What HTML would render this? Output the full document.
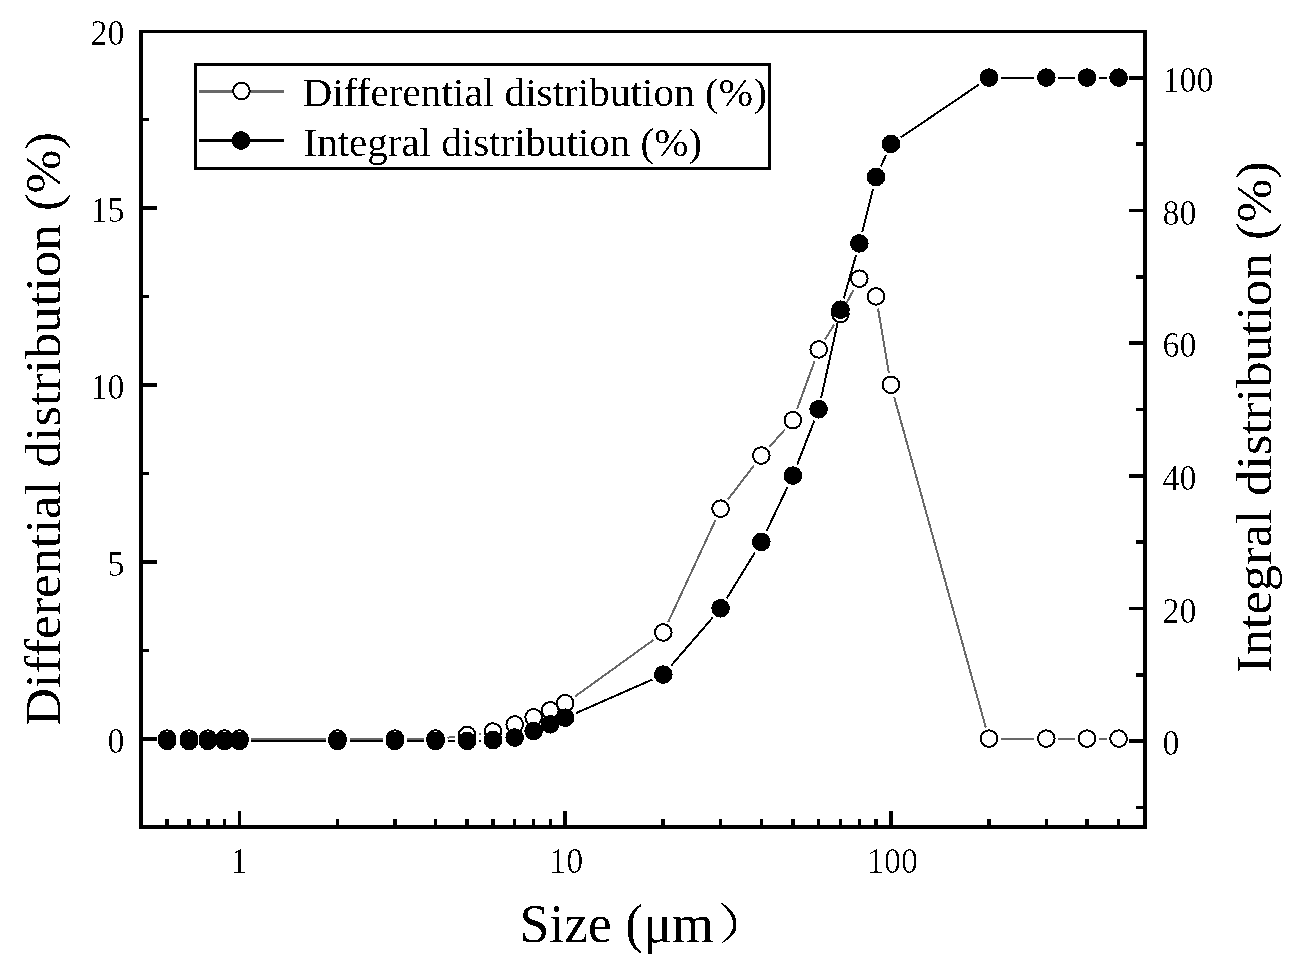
<!DOCTYPE html>
<html><head><meta charset="utf-8"><style>
html,body{margin:0;padding:0;background:#fff;}
svg{display:block;}
text{font-family:"Liberation Serif",serif;fill:#000;}
</style></head><body>
<svg width="1300" height="970" viewBox="0 0 1300 970">
<defs><filter id="tf" x="0" y="0" width="1300" height="970" filterUnits="userSpaceOnUse"><feComponentTransfer><feFuncA type="discrete" tableValues="0 0 1"/></feComponentTransfer></filter><filter id="tf2" x="0" y="0" width="1300" height="970" filterUnits="userSpaceOnUse"><feComponentTransfer><feFuncA type="discrete" tableValues="0 1"/></feComponentTransfer></filter></defs>
<rect width="1300" height="970" fill="#fff"/>
<g fill="#000" shape-rendering="crispEdges">
<rect x="139" y="30" width="1008" height="3"/>
<rect x="139" y="30" width="4" height="799"/>
<rect x="139" y="825" width="1008" height="4"/>
<rect x="1143" y="30" width="4" height="799"/>
<rect x="165.42" y="819" width="3.5" height="6"/>
<rect x="187.23" y="819" width="3.5" height="6"/>
<rect x="206.12" y="819" width="3.5" height="6"/>
<rect x="222.78" y="819" width="3.5" height="6"/>
<rect x="237.69" y="811" width="3.5" height="14"/>
<rect x="335.75" y="819" width="3.5" height="6"/>
<rect x="393.11" y="819" width="3.5" height="6"/>
<rect x="433.81" y="819" width="3.5" height="6"/>
<rect x="465.37" y="819" width="3.5" height="6"/>
<rect x="491.16" y="819" width="3.5" height="6"/>
<rect x="512.97" y="819" width="3.5" height="6"/>
<rect x="531.86" y="819" width="3.5" height="6"/>
<rect x="548.52" y="819" width="3.5" height="6"/>
<rect x="563.43" y="811" width="3.5" height="14"/>
<rect x="661.49" y="819" width="3.5" height="6"/>
<rect x="718.85" y="819" width="3.5" height="6"/>
<rect x="759.55" y="819" width="3.5" height="6"/>
<rect x="791.11" y="819" width="3.5" height="6"/>
<rect x="816.90" y="819" width="3.5" height="6"/>
<rect x="838.71" y="819" width="3.5" height="6"/>
<rect x="857.60" y="819" width="3.5" height="6"/>
<rect x="874.26" y="819" width="3.5" height="6"/>
<rect x="889.17" y="811" width="3.5" height="14"/>
<rect x="987.23" y="819" width="3.5" height="6"/>
<rect x="1044.59" y="819" width="3.5" height="6"/>
<rect x="1085.29" y="819" width="3.5" height="6"/>
<rect x="1116.85" y="819" width="3.5" height="6"/>
<rect x="143" y="737.05" width="14" height="3.5"/>
<rect x="143" y="648.60" width="6" height="3.5"/>
<rect x="143" y="560.15" width="14" height="3.5"/>
<rect x="143" y="471.70" width="6" height="3.5"/>
<rect x="143" y="383.25" width="14" height="3.5"/>
<rect x="143" y="294.80" width="6" height="3.5"/>
<rect x="143" y="206.35" width="14" height="3.5"/>
<rect x="143" y="117.90" width="6" height="3.5"/>
<rect x="1136" y="805.73" width="7" height="3.5"/>
<rect x="1129" y="739.40" width="14" height="3.5"/>
<rect x="1136" y="673.07" width="7" height="3.5"/>
<rect x="1129" y="606.74" width="14" height="3.5"/>
<rect x="1136" y="540.41" width="7" height="3.5"/>
<rect x="1129" y="474.08" width="14" height="3.5"/>
<rect x="1136" y="407.75" width="7" height="3.5"/>
<rect x="1129" y="341.42" width="14" height="3.5"/>
<rect x="1136" y="275.09" width="7" height="3.5"/>
<rect x="1129" y="208.76" width="14" height="3.5"/>
<rect x="1136" y="142.43" width="7" height="3.5"/>
<rect x="1129" y="76.10" width="14" height="3.5"/>
<line x1="251.44" y1="739.00" x2="325.50" y2="739.00" stroke="#686868" stroke-width="2"/>
<line x1="349.50" y1="739.00" x2="382.86" y2="739.00" stroke="#686868" stroke-width="2"/>
<line x1="406.86" y1="739.00" x2="423.56" y2="739.00" stroke="#686868" stroke-width="2"/>
<line x1="447.48" y1="737.66" x2="455.20" y2="736.80" stroke="#686868" stroke-width="2"/>
<line x1="479.01" y1="733.83" x2="481.03" y2="733.55" stroke="#686868" stroke-width="2"/>
<line x1="574.91" y1="696.60" x2="653.51" y2="639.88" stroke="#686868" stroke-width="2"/>
<line x1="668.28" y1="621.97" x2="715.55" y2="519.92" stroke="#686868" stroke-width="2"/>
<line x1="727.90" y1="499.51" x2="753.99" y2="465.48" stroke="#686868" stroke-width="2"/>
<line x1="769.28" y1="447.01" x2="784.87" y2="429.53" stroke="#686868" stroke-width="2"/>
<line x1="796.97" y1="409.31" x2="814.55" y2="361.09" stroke="#686868" stroke-width="2"/>
<line x1="824.95" y1="339.60" x2="834.17" y2="324.66" stroke="#686868" stroke-width="2"/>
<line x1="846.11" y1="303.85" x2="853.70" y2="289.65" stroke="#686868" stroke-width="2"/>
<line x1="867.58" y1="287.80" x2="867.79" y2="288.01" stroke="#686868" stroke-width="2"/>
<line x1="878.01" y1="308.58" x2="888.93" y2="373.37" stroke="#686868" stroke-width="2"/>
<line x1="894.13" y1="396.76" x2="985.77" y2="727.44" stroke="#686868" stroke-width="2"/>
<line x1="1000.98" y1="739.00" x2="1034.34" y2="739.00" stroke="#686868" stroke-width="2"/>
<line x1="1058.34" y1="739.00" x2="1075.04" y2="739.00" stroke="#686868" stroke-width="2"/>
<line x1="1099.04" y1="739.00" x2="1106.60" y2="739.00" stroke="#686868" stroke-width="2"/>
<circle cx="167.17" cy="738.60" r="8.3" fill="#fff" stroke="#000" stroke-width="2"/>
<circle cx="188.98" cy="738.60" r="8.3" fill="#fff" stroke="#000" stroke-width="2"/>
<circle cx="207.87" cy="738.60" r="8.3" fill="#fff" stroke="#000" stroke-width="2"/>
<circle cx="224.53" cy="738.60" r="8.3" fill="#fff" stroke="#000" stroke-width="2"/>
<circle cx="239.44" cy="738.60" r="8.3" fill="#fff" stroke="#000" stroke-width="2"/>
<circle cx="337.50" cy="738.60" r="8.3" fill="#fff" stroke="#000" stroke-width="2"/>
<circle cx="394.86" cy="738.60" r="8.3" fill="#fff" stroke="#000" stroke-width="2"/>
<circle cx="435.56" cy="738.60" r="8.3" fill="#fff" stroke="#000" stroke-width="2"/>
<circle cx="467.12" cy="735.06" r="8.3" fill="#fff" stroke="#000" stroke-width="2"/>
<circle cx="492.91" cy="731.52" r="8.3" fill="#fff" stroke="#000" stroke-width="2"/>
<circle cx="514.72" cy="724.45" r="8.3" fill="#fff" stroke="#000" stroke-width="2"/>
<circle cx="533.61" cy="717.37" r="8.3" fill="#fff" stroke="#000" stroke-width="2"/>
<circle cx="550.27" cy="710.30" r="8.3" fill="#fff" stroke="#000" stroke-width="2"/>
<circle cx="565.18" cy="703.22" r="8.3" fill="#fff" stroke="#000" stroke-width="2"/>
<circle cx="663.24" cy="632.46" r="8.3" fill="#fff" stroke="#000" stroke-width="2"/>
<circle cx="720.60" cy="508.63" r="8.3" fill="#fff" stroke="#000" stroke-width="2"/>
<circle cx="761.30" cy="455.56" r="8.3" fill="#fff" stroke="#000" stroke-width="2"/>
<circle cx="792.86" cy="420.18" r="8.3" fill="#fff" stroke="#000" stroke-width="2"/>
<circle cx="818.65" cy="349.42" r="8.3" fill="#fff" stroke="#000" stroke-width="2"/>
<circle cx="840.46" cy="314.04" r="8.3" fill="#fff" stroke="#000" stroke-width="2"/>
<circle cx="859.35" cy="278.66" r="8.3" fill="#fff" stroke="#000" stroke-width="2"/>
<circle cx="876.01" cy="296.35" r="8.3" fill="#fff" stroke="#000" stroke-width="2"/>
<circle cx="890.92" cy="384.80" r="8.3" fill="#fff" stroke="#000" stroke-width="2"/>
<circle cx="988.98" cy="738.60" r="8.3" fill="#fff" stroke="#000" stroke-width="2"/>
<circle cx="1046.34" cy="738.60" r="8.3" fill="#fff" stroke="#000" stroke-width="2"/>
<circle cx="1087.04" cy="738.60" r="8.3" fill="#fff" stroke="#000" stroke-width="2"/>
<circle cx="1118.60" cy="738.60" r="8.3" fill="#fff" stroke="#000" stroke-width="2"/>
<line x1="251.44" y1="741.10" x2="325.50" y2="741.10" stroke="#000" stroke-width="2"/>
<line x1="349.50" y1="741.10" x2="382.86" y2="741.10" stroke="#000" stroke-width="2"/>
<line x1="406.86" y1="741.10" x2="423.56" y2="741.10" stroke="#000" stroke-width="2"/>
<line x1="447.56" y1="741.10" x2="455.12" y2="741.10" stroke="#000" stroke-width="2"/>
<line x1="479.12" y1="740.70" x2="480.92" y2="740.64" stroke="#000" stroke-width="2"/>
<line x1="576.17" y1="713.05" x2="652.25" y2="679.60" stroke="#000" stroke-width="2"/>
<line x1="671.09" y1="665.69" x2="712.75" y2="617.52" stroke="#000" stroke-width="2"/>
<line x1="726.87" y1="598.21" x2="755.02" y2="552.34" stroke="#000" stroke-width="2"/>
<line x1="766.45" y1="531.27" x2="787.71" y2="486.62" stroke="#000" stroke-width="2"/>
<line x1="797.21" y1="464.60" x2="814.31" y2="420.63" stroke="#000" stroke-width="2"/>
<line x1="821.22" y1="397.73" x2="837.89" y2="321.68" stroke="#000" stroke-width="2"/>
<line x1="843.75" y1="298.41" x2="856.07" y2="255.17" stroke="#000" stroke-width="2"/>
<line x1="862.28" y1="231.99" x2="873.09" y2="188.93" stroke="#000" stroke-width="2"/>
<line x1="880.93" y1="166.35" x2="886.00" y2="155.08" stroke="#000" stroke-width="2"/>
<line x1="900.86" y1="137.41" x2="979.04" y2="84.52" stroke="#000" stroke-width="2"/>
<line x1="1000.98" y1="77.80" x2="1034.34" y2="77.80" stroke="#000" stroke-width="2"/>
<line x1="1058.34" y1="77.80" x2="1075.04" y2="77.80" stroke="#000" stroke-width="2"/>
<line x1="1099.04" y1="77.80" x2="1106.60" y2="77.80" stroke="#000" stroke-width="2"/>
<circle cx="167.17" cy="740.90" r="9.3"/>
<circle cx="188.98" cy="740.90" r="9.3"/>
<circle cx="207.87" cy="740.90" r="9.3"/>
<circle cx="224.53" cy="740.90" r="9.3"/>
<circle cx="239.44" cy="740.90" r="9.3"/>
<circle cx="337.50" cy="740.90" r="9.3"/>
<circle cx="394.86" cy="740.90" r="9.3"/>
<circle cx="435.56" cy="740.90" r="9.3"/>
<circle cx="467.12" cy="740.90" r="9.3"/>
<circle cx="492.91" cy="740.04" r="9.3"/>
<circle cx="514.72" cy="737.58" r="9.3"/>
<circle cx="533.61" cy="730.95" r="9.3"/>
<circle cx="550.27" cy="724.32" r="9.3"/>
<circle cx="565.18" cy="717.68" r="9.3"/>
<circle cx="663.24" cy="674.57" r="9.3"/>
<circle cx="720.60" cy="608.24" r="9.3"/>
<circle cx="761.30" cy="541.91" r="9.3"/>
<circle cx="792.86" cy="475.58" r="9.3"/>
<circle cx="818.65" cy="409.25" r="9.3"/>
<circle cx="840.46" cy="309.75" r="9.3"/>
<circle cx="859.35" cy="243.42" r="9.3"/>
<circle cx="876.01" cy="177.10" r="9.3"/>
<circle cx="890.92" cy="143.93" r="9.3"/>
<circle cx="988.98" cy="77.60" r="9.3"/>
<circle cx="1046.34" cy="77.60" r="9.3"/>
<circle cx="1087.04" cy="77.60" r="9.3"/>
<circle cx="1118.60" cy="77.60" r="9.3"/>
<rect x="195.5" y="64.5" width="574" height="104" fill="none" stroke="#000" stroke-width="3"/>
<line x1="200.5" y1="91.5" x2="283" y2="91.5" stroke="#686868" stroke-width="3" stroke-linecap="round"/>
<circle cx="241.5" cy="91" r="8.3" fill="#fff" stroke="#000" stroke-width="2"/>
<line x1="200.5" y1="140.5" x2="283" y2="140.5" stroke="#000" stroke-width="3" stroke-linecap="round"/>
<circle cx="241" cy="140.5" r="9.3"/>
<path d="M721,903 L722.5,903 C728,907.5 735,913 736,919 L736,929.5 C735,935 728,939.5 722.5,943 L721,943 C726,939 731.5,934 732.5,929 L732.5,919.5 C731.5,914 726,908.5 721,904 Z"/>
</g>
<g filter="url(#tf)">
<text transform="translate(238.94,872.50) scale(1,1.07)" text-anchor="middle" font-size="34">1</text>
<text transform="translate(566.18,872.50) scale(1,1.07)" text-anchor="middle" font-size="34">10</text>
<text transform="translate(892.42,872.50) scale(1,1.07)" text-anchor="middle" font-size="34">100</text>
<text transform="translate(124.50,752.60) scale(1,1.07)" text-anchor="end" font-size="34">0</text>
<text transform="translate(124.50,575.70) scale(1,1.07)" text-anchor="end" font-size="34">5</text>
<text transform="translate(124.50,398.80) scale(1,1.07)" text-anchor="end" font-size="34">10</text>
<text transform="translate(124.50,221.90) scale(1,1.07)" text-anchor="end" font-size="34">15</text>
<text transform="translate(124.50,45.00) scale(1,1.07)" text-anchor="end" font-size="34">20</text>
<text transform="translate(1162.50,755.40) scale(1,1.07)" text-anchor="start" font-size="34">0</text>
<text transform="translate(1162.50,622.74) scale(1,1.07)" text-anchor="start" font-size="34">20</text>
<text transform="translate(1162.50,490.08) scale(1,1.07)" text-anchor="start" font-size="34">40</text>
<text transform="translate(1162.50,357.42) scale(1,1.07)" text-anchor="start" font-size="34">60</text>
<text transform="translate(1162.50,224.76) scale(1,1.07)" text-anchor="start" font-size="34">80</text>
<text transform="translate(1162.50,92.10) scale(1,1.07)" text-anchor="start" font-size="34">100</text>
</g>
<g filter="url(#tf2)">
<text transform="translate(302.5,106) scale(1.0066,1)" font-size="41">Differential distribution (%)</text>
<text transform="translate(303.5,156) scale(1,1)" font-size="41">Integral distribution (%)</text>
<text transform="translate(60,726) rotate(-90) scale(1.035,1)" font-size="51">Differential distribution (%)</text>
<text transform="translate(1271,673) rotate(-90) scale(1.033,1)" font-size="51">Integral distribution (%)</text>
<text transform="translate(519.5,942.5) scale(1,1.02)" font-size="53.7">Size (μm</text>
</g>
</svg>
</body></html>
